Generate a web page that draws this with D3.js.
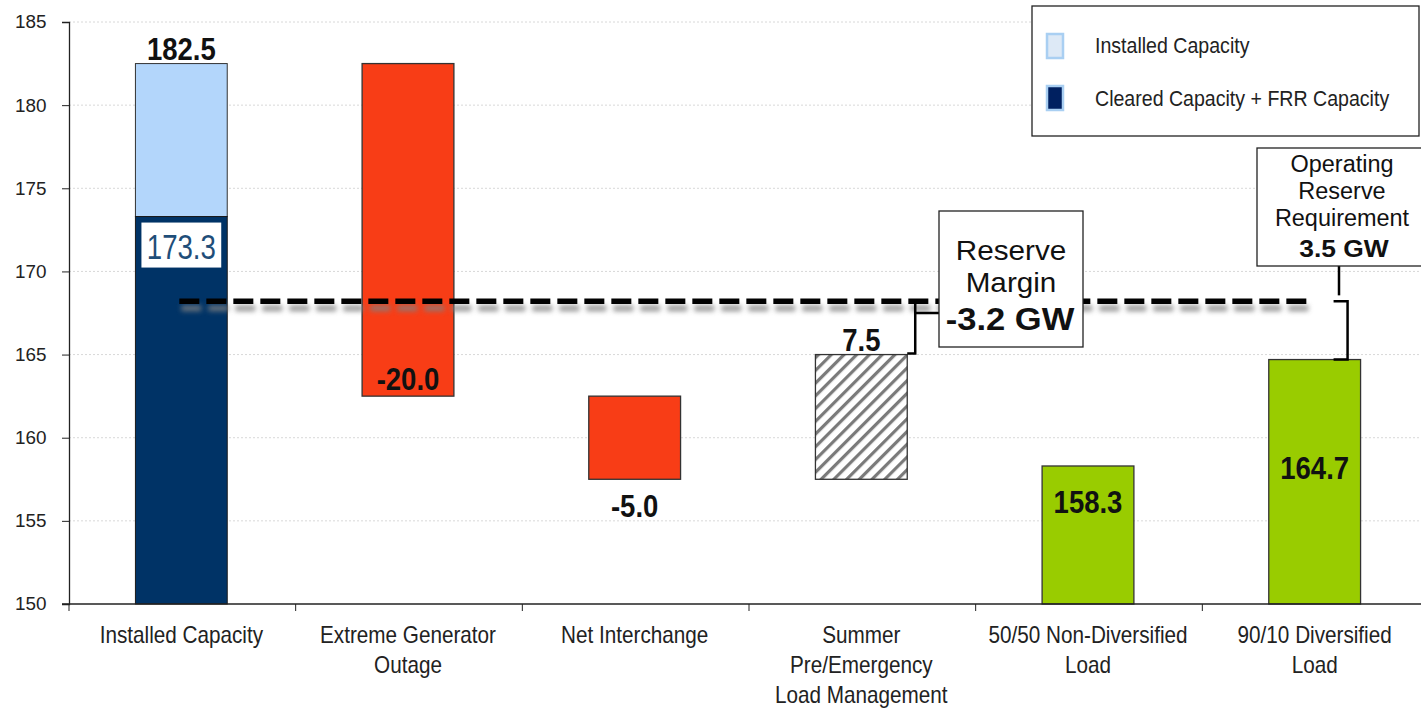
<!DOCTYPE html>
<html>
<head>
<meta charset="utf-8">
<script src="https://cdn.jsdelivr.net/npm/d3@7"></script>
<style>
  html, body { margin: 0; padding: 0; background: #fff; }
  svg { display: block; }
</style>
</head>
<body>
<svg id="chart" width="1421" height="709"></svg>
<script>
// Categories along the x axis (each label split into its lines)
const categories = [
  "Installed Capacity",
  "Extreme Generator Outage",
  "Net Interchange",
  "Summer Pre/Emergency Load Management",
  "50/50 Non-Diversified Load",
  "90/10 Diversified Load"
];
const categoryLines = [
  ["Installed Capacity"],
  ["Extreme Generator", "Outage"],
  ["Net Interchange"],
  ["Summer", "Pre/Emergency", "Load Management"],
  ["50/50 Non-Diversified", "Load"],
  ["90/10 Diversified", "Load"]
];

// Values in GW
const installedCapacity = 182.5;
const clearedCapacity = 173.3;
const adjustments = [-20.0, -5.0, 7.5];   // outage, interchange, load management
const loads = [158.3, 164.7];            // 50/50 and 90/10 peak load
const operatingReserve = 3.5;

const yTicks = [150, 155, 160, 165, 170, 175, 180, 185];
const legendLabels = ["Installed Capacity", "Cleared Capacity + FRR Capacity"];

// Derived waterfall levels
const afterOutage = installedCapacity + adjustments[0];
const afterInterchange = afterOutage + adjustments[1];
const afterLoadMgmt = afterInterchange + adjustments[2];
const requirement = loads[1] + operatingReserve;
const reserveMargin = +(afterLoadMgmt - requirement).toFixed(1);

const bars = [
  { cat: categories[1], lo: afterOutage, hi: installedCapacity, kind: "neg" },
  { cat: categories[2], lo: afterInterchange, hi: afterOutage, kind: "neg" },
  { cat: categories[3], lo: afterInterchange, hi: afterLoadMgmt, kind: "hatch" },
  { cat: categories[4], lo: 150, hi: loads[0], kind: "load" },
  { cat: categories[5], lo: 150, hi: loads[1], kind: "load" }
];

const svg = d3.select("#chart");
const sans = "'Liberation Sans', Arial, sans-serif";
const fmt = d3.formatLocale({ decimal: ".", thousands: ",", grouping: [3], currency: ["", ""], minus: "-" }).format(".1f");

const y = d3.scaleLinear().domain([150, 185]).range([604, 22]);
const xBand = d3.scaleBand().domain(categories).range([68, 1428]).paddingInner(0).paddingOuter(0);
const x = d3.scaleBand().domain(categories).range([68, 1428]).paddingInner(0.595).paddingOuter(0.2975);
const cx = c => x(c) + x.bandwidth() / 2;

// Text drawn with a horizontal scale factor (condensed / widened lettering)
function label(parent, px, py, str, o) {
  const g = parent.append("g").attr("transform", `translate(${px},${py}) scale(${o.sx || 1},1)`);
  return g.append("text")
    .attr("text-anchor", o.anchor || "middle")
    .attr("font-family", sans)
    .attr("font-size", o.size)
    .attr("font-weight", o.weight || "normal")
    .attr("fill", o.fill || "#111")
    .text(str);
}

const defs = svg.append("defs");
const hatch = defs.append("pattern")
  .attr("id", "hatch").attr("patternUnits", "userSpaceOnUse")
  .attr("width", 9).attr("height", 9)
  .attr("patternTransform", "rotate(45)");
hatch.append("rect").attr("width", 9).attr("height", 9).attr("fill", "#fff");
hatch.append("rect").attr("x", 0).attr("y", 0).attr("width", 3.2).attr("height", 9).attr("fill", "#7a7a7a");

defs.append("filter").attr("id", "soft")
  .attr("filterUnits", "userSpaceOnUse")
  .attr("x", 0).attr("y", 0).attr("width", 1421).attr("height", 709)
  .append("feGaussianBlur").attr("stdDeviation", 2.5);

// Gridlines
svg.append("g").selectAll("line").data(yTicks.slice(1)).join("line")
  .attr("x1", 69).attr("x2", 1421)
  .attr("y1", d => y(d)).attr("y2", d => y(d))
  .attr("stroke", "#d8d8d8").attr("stroke-width", 1).attr("stroke-dasharray", "2,2");

// Installed capacity stacked bar
const c0 = categories[0];
svg.append("rect")
  .attr("x", x(c0)).attr("width", x.bandwidth())
  .attr("y", y(installedCapacity)).attr("height", y(clearedCapacity) - y(installedCapacity))
  .attr("fill", "#b3d6fb").attr("stroke", "#333").attr("stroke-width", 1);
svg.append("rect")
  .attr("x", x(c0)).attr("width", x.bandwidth())
  .attr("y", y(clearedCapacity)).attr("height", y(150) - y(clearedCapacity))
  .attr("fill", "#003366").attr("stroke", "#1a1a1a").attr("stroke-width", 1);

// Waterfall and load bars
svg.append("g").selectAll("rect").data(bars).join("rect")
  .attr("x", d => x(d.cat)).attr("width", x.bandwidth())
  .attr("y", d => y(d.hi)).attr("height", d => y(d.lo) - y(d.hi))
  .attr("fill", d => d.kind === "neg" ? "#f83d16" : d.kind === "load" ? "#99cc00" : "url(#hatch)")
  .attr("stroke", "#333").attr("stroke-width", 1.3);

// Requirement line (load + operating reserve) with soft shadow
const lineX1 = cx(c0) - 2, lineX2 = cx(categories[5]) - 3;
svg.append("line")
  .attr("x1", lineX1 + 2).attr("x2", lineX2 + 2)
  .attr("y1", y(requirement) + 7).attr("y2", y(requirement) + 7)
  .attr("stroke", "#808080").attr("stroke-width", 6).attr("stroke-dasharray", "20,7")
  .attr("filter", "url(#soft)").attr("opacity", 0.8);
svg.append("line")
  .attr("x1", lineX1).attr("x2", lineX2)
  .attr("y1", y(requirement)).attr("y2", y(requirement))
  .attr("stroke", "#000").attr("stroke-width", 5.5).attr("stroke-dasharray", "20,7");

// Axes
const yAxis = d3.axisLeft(y).tickValues(yTicks).tickSize(7).tickPadding(15).tickFormat(d3.format("d"));
const gy = svg.append("g").attr("transform", "translate(69,0)").call(yAxis);
gy.select(".domain").attr("stroke", "#222").attr("stroke-width", 1.3);
gy.selectAll(".tick line").attr("stroke", "#222");
gy.selectAll(".tick text").attr("font-family", sans).attr("font-size", 18.5).attr("fill", "#222")
  .attr("transform", "scale(1.02,1)");

const gx = svg.append("g").attr("transform", "translate(0,604)");
gx.append("line").attr("x1", 62).attr("x2", 1421).attr("y1", 0).attr("y2", 0)
  .attr("stroke", "#222").attr("stroke-width", 1.3);
gx.selectAll("line.tk").data(categories).join("line").attr("class", "tk")
  .attr("x1", d => xBand(d) + 1).attr("x2", d => xBand(d) + 1)
  .attr("y1", 0).attr("y2", 7).attr("stroke", "#222");
categories.forEach((c, i) => {
  categoryLines[i].forEach((t, j) => {
    label(gx, xBand(c) + xBand.bandwidth() / 2, 39 + j * 30, t, { size: 23, sx: 0.9, fill: "#222" });
  });
});

// Value labels
const vl = { size: 32, sx: 0.86, weight: "bold", fill: "#111" };
label(svg, cx(c0), y(installedCapacity) - 4, fmt(installedCapacity), vl);
label(svg, cx(categories[1]), y(afterOutage) - 6, fmt(adjustments[0]), vl);
label(svg, cx(categories[2]), y(afterInterchange) + 38, fmt(adjustments[1]), vl);
label(svg, cx(categories[3]), y(afterLoadMgmt) - 4, fmt(adjustments[2]), vl);
label(svg, cx(categories[4]), y(loads[0]) + 47, fmt(loads[0]), vl);
label(svg, cx(categories[5]), y(loads[1]) + 119, fmt(loads[1]), vl);

// Cleared capacity label in a white box
const clY = y(clearedCapacity);
svg.append("rect").attr("x", x(c0) + 6).attr("y", clY + 6).attr("width", x.bandwidth() - 12).attr("height", 45)
  .attr("fill", "#fff");
label(svg, cx(c0), clY + 42, fmt(clearedCapacity), { size: 35, sx: 0.79, fill: "#1f4e79" });

// Reserve margin bracket and box
const bx4 = x(categories[3]) + x.bandwidth();
svg.append("path")
  .attr("d", `M${bx4},${y(afterLoadMgmt) - 1}H${bx4 + 8}V${y(requirement)}`)
  .attr("fill", "none").attr("stroke", "#000").attr("stroke-width", 2.5);
svg.append("line").attr("x1", bx4 + 8).attr("x2", 939).attr("y1", 313).attr("y2", 313)
  .attr("stroke", "#000").attr("stroke-width", 2.5);
svg.append("rect").attr("x", 939).attr("y", 211).attr("width", 144).attr("height", 136)
  .attr("fill", "#fff").attr("stroke", "#222").attr("stroke-width", 1.3);
label(svg, 1011, 260, "Reserve", { size: 28, sx: 1.06 });
label(svg, 1011, 292, "Margin", { size: 28, sx: 1.06 });
label(svg, 1010, 330, `${fmt(reserveMargin)} GW`, { size: 32, sx: 1.08, weight: "bold" });

// Operating reserve bracket and box
const bx6 = x(categories[5]) + x.bandwidth();
svg.append("path")
  .attr("d", `M${bx6 - 27},${y(requirement)}H${bx6 - 13}V${y(loads[1])}H${bx6 - 27}`)
  .attr("fill", "none").attr("stroke", "#000").attr("stroke-width", 2.5);
svg.append("line").attr("x1", 1339).attr("x2", 1339).attr("y1", 266).attr("y2", y(requirement) - 6)
  .attr("stroke", "#000").attr("stroke-width", 2.5);
svg.append("rect").attr("x", 1257).attr("y", 148).attr("width", 170).attr("height", 118)
  .attr("fill", "#fff").attr("stroke", "#222").attr("stroke-width", 1.3);
label(svg, 1342, 172, "Operating", { size: 23, sx: 1.02 });
label(svg, 1342, 199, "Reserve", { size: 23, sx: 1.02 });
label(svg, 1342, 226, "Requirement", { size: 23, sx: 1.02 });
label(svg, 1344, 257, `${fmt(operatingReserve)} GW`, { size: 24, sx: 1.1, weight: "bold" });

// Legend
const lg = svg.append("g");
lg.append("rect").attr("x", 1032).attr("y", 6).attr("width", 387).attr("height", 130)
  .attr("fill", "#fff").attr("stroke", "#222").attr("stroke-width", 1.3);
const swatches = [{ fill: "#dde9f6", stroke: "#a9cff2" }, { fill: "#002060", stroke: "#a9cff2" }];
lg.selectAll("rect.sw").data(legendLabels).join("rect").attr("class", "sw")
  .attr("x", 1047).attr("y", (d, i) => 34 + i * 52).attr("width", 16).attr("height", 24)
  .attr("fill", (d, i) => swatches[i].fill).attr("stroke", (d, i) => swatches[i].stroke).attr("stroke-width", 2.5);
legendLabels.forEach((t, i) => {
  label(lg, 1095, 53 + i * 53, t, { size: 22, sx: 0.89, anchor: "start", fill: "#222" });
});
</script>
</body>
</html>
